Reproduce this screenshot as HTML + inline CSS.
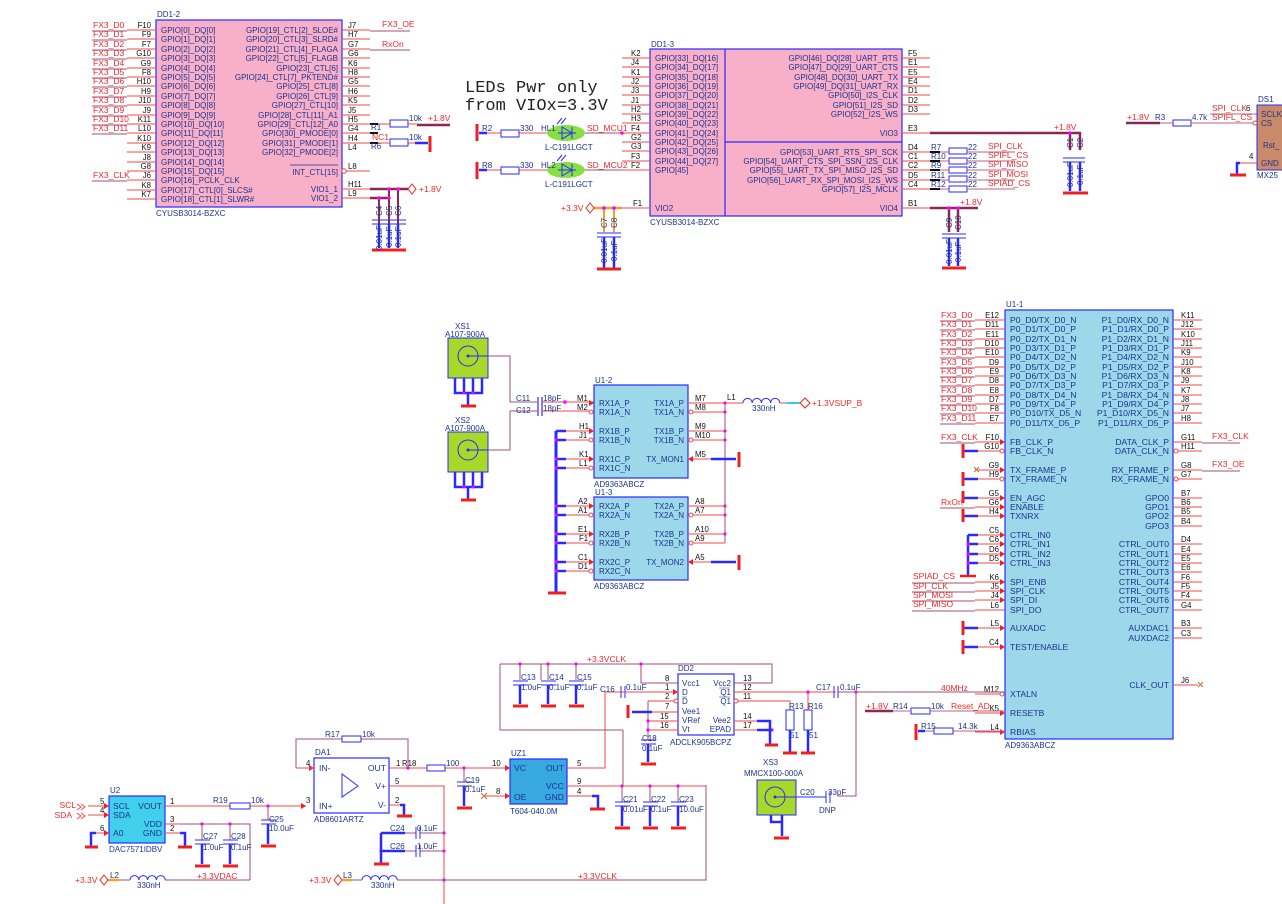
<!DOCTYPE html>
<html><head><meta charset="utf-8"><style>
html,body{margin:0;padding:0;background:#fff;}
svg{display:block;font-family:"Liberation Sans",sans-serif;}
.b{fill:#1d3390;font-size:8px}
.bs{fill:#1d3390;font-size:8.6px}
.r{fill:#f02828;font-size:8.5px}
.k{fill:#111;font-size:7.8px}
.e{text-anchor:end}
.m{text-anchor:middle}
</style></head><body>
<svg width="1282" height="904" viewBox="0 0 1282 904" xmlns="http://www.w3.org/2000/svg">
<rect width="1282" height="904" fill="#fff"/>

<!-- ================= DD1-2 ================= -->
<rect x="156" y="20" width="186" height="187" fill="#f8b0c8" stroke="#2a2aff" stroke-width="1.2"/>
<text class="b" x="157" y="17">DD1-2</text>
<text class="b" x="156" y="216">CYUSB3014-BZXC</text>
<path d="M127 30H156M127 39H156M127 49H156M127 58H156M127 68H156M127 77H156M127 86H156M127 96H156M127 105H156M127 115H156M127 124H156M127 133H156M127 143H156M127 152H156M127 162H156M127 171H156M127 180H156M127 190H156M127 199H156
M342 30H370M342 39H370M342 49H370M342 58H370M342 68H370M342 77H370M342 86H370M342 96H370M342 105H370M342 115H370M342 124H370M342 133H370M342 143H370M342 171H370M342 189H370M342 198H370" stroke="#f04848" stroke-width="1"/>
<path d="M92 31H127M92 40H127M92 50H127M92 59H127M92 69H127M92 78H127M92 87H127M92 97H127M92 106H127M92 116H127M92 125H127M92 134H127M92 181H127M370 31H410M370 50H410" stroke="#a05078" stroke-width="1"/>
<g class="r">
<text x="93" y="28">FX3_D0</text><text x="93" y="37">FX3_D1</text><text x="93" y="47">FX3_D2</text><text x="93" y="56">FX3_D3</text><text x="93" y="66">FX3_D4</text><text x="93" y="75">FX3_D5</text><text x="93" y="84">FX3_D6</text><text x="93" y="94">FX3_D7</text><text x="93" y="103">FX3_D8</text><text x="93" y="113">FX3_D9</text><text x="93" y="122">FX3_D10</text><text x="93" y="131">FX3_D11</text><text x="93" y="178">FX3_CLK</text>
<text x="382" y="27">FX3_OE</text><text x="382" y="47">RxOn</text>
</g>
<g class="k e">
<text x="151" y="28">F10</text><text x="151" y="37">F9</text><text x="151" y="47">F7</text><text x="151" y="56">G10</text><text x="151" y="66">G9</text><text x="151" y="75">F8</text><text x="151" y="84">H10</text><text x="151" y="94">H9</text><text x="151" y="103">J10</text><text x="151" y="113">J9</text><text x="151" y="122">K11</text><text x="151" y="131">L10</text><text x="151" y="141">K10</text><text x="151" y="150">K9</text><text x="151" y="160">J8</text><text x="151" y="169">G8</text><text x="151" y="178">J6</text><text x="151" y="188">K8</text><text x="151" y="197">K7</text>
</g>
<g class="k">
<text x="348" y="28">J7</text><text x="348" y="37">H7</text><text x="348" y="47">G7</text><text x="348" y="56">G6</text><text x="348" y="66">K6</text><text x="348" y="75">H8</text><text x="348" y="84">G5</text><text x="348" y="94">H6</text><text x="348" y="103">K5</text><text x="348" y="113">J5</text><text x="348" y="122">H5</text><text x="348" y="131">G4</text><text x="348" y="141">H4</text><text x="348" y="150">L4</text><text x="348" y="169">L8</text><text x="348" y="187">H11</text><text x="348" y="196">L9</text>
</g>
<g class="b">
<text x="161" y="33">GPIO[0]_DQ[0]</text><text x="161" y="42">GPIO[1]_DQ[1]</text><text x="161" y="52">GPIO[2]_DQ[2]</text><text x="161" y="61">GPIO[3]_DQ[3]</text><text x="161" y="71">GPIO[4]_DQ[4]</text><text x="161" y="80">GPIO[5]_DQ[5]</text><text x="161" y="89">GPIO[6]_DQ[6]</text><text x="161" y="99">GPIO[7]_DQ[7]</text><text x="161" y="108">GPIO[8]_DQ[8]</text><text x="161" y="118">GPIO[9]_DQ[9]</text><text x="161" y="127">GPIO[10]_DQ[10]</text><text x="161" y="136">GPIO[11]_DQ[11]</text><text x="161" y="146">GPIO[12]_DQ[12]</text><text x="161" y="155">GPIO[13]_DQ[13]</text><text x="161" y="165">GPIO[14]_DQ[14]</text><text x="161" y="174">GPIO[15]_DQ[15]</text><text x="161" y="183">GPIO[16]_PCLK_CLK</text><text x="161" y="193">GPIO[17]_CTL[0]_SLCS#</text><text x="161" y="202">GPIO[18]_CTL[1]_SLWR#</text>
</g>
<g class="b e">
<text x="338" y="33">GPIO[19]_CTL[2]_SLOE#</text><text x="338" y="42">GPIO[20]_CTL[3]_SLRD#</text><text x="338" y="52">GPIO[21]_CTL[4]_FLAGA</text><text x="338" y="61">GPIO[22]_CTL[5]_FLAGB</text><text x="338" y="71">GPIO[23]_CTL[6]</text><text x="338" y="80">GPIO[24]_CTL[7]_PKTEND#</text><text x="338" y="89">GPIO[25]_CTL[8]</text><text x="338" y="99">GPIO[26]_CTL[9]</text><text x="338" y="108">GPIO[27]_CTL[10]</text><text x="338" y="118">GPIO[28]_CTL[11]_A1</text><text x="338" y="127">GPIO[29]_CTL[12]_A0</text><text x="338" y="136">GPIO[30]_PMODE[0]</text><text x="338" y="146">GPIO[31]_PMODE[1]</text><text x="338" y="155">GPIO[32]_PMODE[2]</text><text x="338" y="175">INT_CTL[15]</text><text x="338" y="192">VIO1_1</text><text x="338" y="201">VIO1_2</text>
</g>
<line x1="290" y1="165" x2="338" y2="165" stroke="#1d3390" stroke-width="0.7"/>
<circle cx="344" cy="171" r="2.2" fill="#fff" stroke="#f04848"/>
<!-- R1 / R6 -->
<path d="M370 133H378M370 143H378M370 124H378" stroke="#111" stroke-width="2"/>
<text class="b" x="371" y="130">R1</text><text class="r" x="372" y="140">NC1</text><text class="b" x="371" y="149">R6</text>
<rect x="390" y="120" width="18" height="7" fill="#fff" stroke="#2a2aff"/>
<rect x="390" y="139" width="18" height="7" fill="#fff" stroke="#2a2aff"/>
<path d="M378 124H390M408 124H417M378 143H390M408 143H415" stroke="#f04848"/>
<path d="M417 125H450" stroke="#8a2850" stroke-width="2.5"/>
<path d="M415 143H428" stroke="#2a2aff" stroke-width="2.5"/>
<path d="M430 136V152" stroke="#f02020" stroke-width="3"/>
<text class="b" x="409" y="121">10k</text><text class="b" x="409" y="140">10k</text>
<text class="r" x="428" y="121">+1.8V</text>
<!-- VIO1 caps -->
<path d="M370 189H408M370 198H390" stroke="#8a2850" stroke-width="2.5"/>
<path d="M412 184L416 189L412 194L408 189Z" fill="#fff" stroke="#f02020"/>
<text class="r" x="419" y="192">+1.8V</text>
<path d="M379 198V242M389 189V242M398 189V242" stroke="#8a2850" stroke-width="2"/>
<path d="M372 220H406M372 224H406" stroke="#2a2aff" stroke-width="1"/>
<path d="M379 224V248M389 224V248M398 224V248" stroke="#2a2aff" stroke-width="2.5"/>
<path d="M372 250H406" stroke="#f02020" stroke-width="3"/>
<circle cx="379" cy="198" r="1.8" fill="#f0f"/><circle cx="389" cy="198" r="1.8" fill="#f0f"/><circle cx="389" cy="189" r="1.8" fill="#f0f"/><circle cx="398" cy="189" r="1.8" fill="#f0f"/>
<g class="b" font-size="7"><text transform="translate(382,216) rotate(-90)">C4</text><text transform="translate(392,216) rotate(-90)">C5</text><text transform="translate(401,216) rotate(-90)">C6</text>
<text transform="translate(382,250) rotate(-90)">0.01uF</text><text transform="translate(392,247) rotate(-90)">0.1uF</text><text transform="translate(401,247) rotate(-90)">0.1uF</text></g>

<!-- ================= LED text ================= -->
<text x="465" y="92" font-family="Liberation Mono,monospace" font-size="17" fill="#222">LEDs Pwr only</text>
<text x="465" y="110" font-family="Liberation Mono,monospace" font-size="17" fill="#222">from VIOx=3.3V</text>

<!-- LEDs -->
<g>
<path d="M477 124V141M477 162V179" stroke="#f02020" stroke-width="3"/>
<path d="M479 133H487M479 170H487" stroke="#2a2aff" stroke-width="2.5"/>
<path d="M487 133H501M519 133H547M487 170H501M519 170H547" stroke="#f04848"/>
<path d="M585 133H650M585 170H650" stroke="#a05078" stroke-width="1"/>
<rect x="501" y="130" width="18" height="7" fill="#fff" stroke="#2a2aff"/>
<rect x="501" y="167" width="18" height="7" fill="#fff" stroke="#2a2aff"/>
<ellipse cx="566" cy="133" rx="19" ry="8" fill="#88e040"/>
<ellipse cx="566" cy="170" rx="19" ry="8" fill="#88e040"/>
<path d="M558 133H576M572 127V139M572 133L562 127V139Z M558 170H576M572 164V176M572 170L562 164V176Z" fill="none" stroke="#2a2aff"/>
<path d="M557 124L562 118M561 124L566 118M557 161L562 155M561 161L566 155" stroke="#2a2aff"/>
<circle cx="622" cy="133" r="1.8" fill="#f0f"/>
<text class="b" x="482" y="131">R2</text><text class="b" x="482" y="168">R8</text>
<text class="b" x="520" y="131">330</text><text class="b" x="520" y="168">330</text>
<text class="b" x="541" y="131">HL1</text><text class="b" x="541" y="168">HL2</text>
<text class="b" x="545" y="150">L-C191LGCT</text><text class="b" x="545" y="187">L-C191LGCT</text>
<text class="r" x="587" y="131">SD_MCU1</text><text class="r" x="587" y="168">SD_MCU2</text>
</g>

<!-- ================= DD1-3 ================= -->
<rect x="650" y="49" width="252" height="167" fill="#f8b0c8" stroke="#2a2aff" stroke-width="1.2"/>
<path d="M725 49V216M725 142H902" stroke="#2a2aff" stroke-width="1.2"/>
<text class="b" x="651" y="47">DD1-3</text>
<text class="b" x="650" y="225">CYUSB3014-BZXC</text>
<path d="M622 58H650M622 67H650M622 77H650M622 86H650M622 95H650M622 105H650M622 114H650M622 123H650M622 133H650M622 142H650M622 151H650M622 161H650M622 170H650M622 208H650
M902 58H930M902 67H930M902 77H930M902 86H930M902 95H930M902 105H930M902 114H930M902 133H930M902 152H930M902 161H930M902 170H930M902 180H930M902 189H930M902 208H930" stroke="#f04848"/>
<g class="k">
<text x="631" y="56">K2</text><text x="631" y="65">J4</text><text x="631" y="75">K1</text><text x="631" y="84">J2</text><text x="631" y="93">J3</text><text x="631" y="103">J1</text><text x="631" y="112">H2</text><text x="631" y="121">H3</text><text x="631" y="131">F4</text><text x="631" y="140">G2</text><text x="631" y="149">G3</text><text x="631" y="159">F3</text><text x="631" y="168">F2</text><text x="633" y="206">F1</text>
<text x="908" y="56">F5</text><text x="908" y="65">E1</text><text x="908" y="75">E5</text><text x="908" y="84">E4</text><text x="908" y="93">D1</text><text x="908" y="103">D2</text><text x="908" y="112">D3</text><text x="908" y="131">E3</text><text x="908" y="150">D4</text><text x="908" y="159">C1</text><text x="908" y="168">C2</text><text x="908" y="178">D5</text><text x="908" y="187">C4</text><text x="908" y="206">B1</text>
</g>
<g class="b">
<text x="655" y="61">GPIO[33]_DQ[16]</text><text x="655" y="70">GPIO[34]_DQ[17]</text><text x="655" y="80">GPIO[35]_DQ[18]</text><text x="655" y="89">GPIO[36]_DQ[19]</text><text x="655" y="98">GPIO[37]_DQ[20]</text><text x="655" y="108">GPIO[38]_DQ[21]</text><text x="655" y="117">GPIO[39]_DQ[22]</text><text x="655" y="126">GPIO[40]_DQ[23]</text><text x="655" y="136">GPIO[41]_DQ[24]</text><text x="655" y="145">GPIO[42]_DQ[25]</text><text x="655" y="154">GPIO[43]_DQ[26]</text><text x="655" y="164">GPIO[44]_DQ[27]</text><text x="655" y="173">GPIO[45]</text><text x="655" y="211">VIO2</text>
</g>
<g class="b e">
<text x="898" y="61">GPIO[46]_DQ[28]_UART_RTS</text><text x="898" y="70">GPIO[47]_DQ[29]_UART_CTS</text><text x="898" y="80">GPIO[48]_DQ[30]_UART_TX</text><text x="898" y="89">GPIO[49]_DQ[31]_UART_RX</text><text x="898" y="98">GPIO[50]_I2S_CLK</text><text x="898" y="108">GPIO[51]_I2S_SD</text><text x="898" y="117">GPIO[52]_I2S_WS</text><text x="898" y="136">VIO3</text>
<text x="898" y="155">GPIO[53]_UART_RTS_SPI_SCK</text><text x="898" y="164">GPIO[54]_UART_CTS_SPI_SSN_I2S_CLK</text><text x="898" y="173">GPIO[55]_UART_TX_SPI_MISO_I2S_SD</text><text x="898" y="183">GPIO[56]_UART_RX_SPI_MOSI_I2S_WS</text><text x="898" y="192">GPIO[57]_I2S_MCLK</text><text x="898" y="211">VIO4</text>
</g>
<!-- VIO2 caps -->
<path d="M594 208H622" stroke="#f0a030" stroke-width="2.5"/>
<path d="M590 203L594 208L590 213L586 208Z" fill="#fff" stroke="#f02020"/>
<text class="r" x="561" y="211">+3.3V</text>
<path d="M604 208V232M614 208V232" stroke="#f0a030" stroke-width="2"/>
<path d="M597 233H621M597 237H621" stroke="#2a2aff"/>
<path d="M604 237V268M614 237V268" stroke="#2a2aff" stroke-width="2.5"/>
<path d="M597 269H621" stroke="#f02020" stroke-width="3"/>
<circle cx="604" cy="208" r="1.8" fill="#f0f"/><circle cx="614" cy="208" r="1.8" fill="#f0f"/>
<g class="b" font-size="7"><text transform="translate(607,228) rotate(-90)">C7</text><text transform="translate(617,228) rotate(-90)">C8</text><text transform="translate(607,263) rotate(-90)">0.01uF</text><text transform="translate(617,261) rotate(-90)">0.1uF</text></g>

<!-- right of DD1-3 -->
<path d="M930 133H1080V150M1070 133V150" fill="none" stroke="#8a2850" stroke-width="2.5"/>
<circle cx="1070" cy="133" r="1.8" fill="#f0f"/>
<text class="r" x="1054" y="130">+1.8V</text>
<path d="M1063 158H1085M1063 162H1085" stroke="#2a2aff"/>
<path d="M1070 162V191M1080 162V191" stroke="#2a2aff" stroke-width="2.5"/>
<path d="M1063 193H1088" stroke="#f02020" stroke-width="3"/>
<g class="b" font-size="7"><text transform="translate(1073,148) rotate(-90)">C1</text><text transform="translate(1083,148) rotate(-90)">C2</text><text transform="translate(1073,187) rotate(-90)">0.01uF</text><text transform="translate(1083,185) rotate(-90)">0.1uF</text></g>
<path d="M930 152H940M930 161H940M930 170H940M930 180H940M930 189H940" stroke="#111" stroke-width="2"/>
<rect x="949" y="148" width="18" height="6" fill="#fff" stroke="#2a2aff"/><rect x="949" y="158" width="18" height="6" fill="#fff" stroke="#2a2aff"/><rect x="949" y="167" width="18" height="6" fill="#fff" stroke="#2a2aff"/><rect x="949" y="176" width="18" height="6" fill="#fff" stroke="#2a2aff"/><rect x="949" y="186" width="18" height="6" fill="#fff" stroke="#2a2aff"/>
<path d="M940 152H949M967 152H1015M940 161H949M967 161H1015M940 170H949M967 170H1015M940 180H949M967 180H1015M940 189H949M967 189H1015" stroke="#c06080"/>
<g class="b"><text x="931" y="150">R7</text><text x="931" y="159">R10</text><text x="931" y="168">R9</text><text x="931" y="178">R11</text><text x="931" y="187">R12</text>
<text x="968" y="150">22</text><text x="968" y="159">22</text><text x="968" y="168">22</text><text x="968" y="178">22</text><text x="968" y="187">22</text></g>
<g class="r"><text x="988" y="149">SPI_CLK</text><text x="988" y="158">SPIFL_CS</text><text x="988" y="167">SPI_MISO</text><text x="988" y="177">SPI_MOSI</text><text x="988" y="186">SPIAD_CS</text></g>
<path d="M930 208H978M949 208V232M958 208V232" stroke="#8a2850" stroke-width="2.5"/>
<circle cx="949" cy="208" r="1.8" fill="#f0f"/><circle cx="958" cy="208" r="1.8" fill="#f0f"/>
<text class="r" x="960" y="205">+1.8V</text>
<path d="M942 234H966M942 238H966" stroke="#2a2aff"/>
<path d="M949 238V266M958 238V266" stroke="#2a2aff" stroke-width="2.5"/>
<path d="M942 268H966" stroke="#f02020" stroke-width="3"/>
<g class="b" font-size="7"><text transform="translate(952,228) rotate(-90)">C9</text><text transform="translate(961,230) rotate(-90)">C10</text><text transform="translate(952,264) rotate(-90)">0.01uF</text><text transform="translate(961,262) rotate(-90)">0.1uF</text></g>

<!-- DS1 -->
<path d="M1126 123H1160" stroke="#8a2850" stroke-width="2.5"/>
<text class="r" x="1127" y="120">+1.8V</text><text class="b" x="1155" y="120">R3</text>
<rect x="1173" y="120" width="18" height="6" fill="#fff" stroke="#2a2aff"/>
<path d="M1160 123H1173M1191 123H1253M1210 114H1257" stroke="#c06080"/>
<text class="b" x="1192" y="120">4.7k</text>
<text class="r" x="1212" y="111">SPI_CLK</text><text class="r" x="1212" y="120">SPIFL_CS</text>
<text class="k" x="1246" y="111">6</text><text class="k" x="1249" y="159">4</text>
<rect x="1257" y="105" width="30" height="65" fill="#c88a68" stroke="#2a2aff"/>
<circle cx="1255" cy="123" r="2" fill="#fff" stroke="#f04848"/>
<text class="b" x="1258" y="102">DS1</text>
<g class="b"><text x="1261" y="117">SCLK</text><text x="1261" y="126">CS</text><text x="1263" y="148">Rst_</text><text x="1261" y="166">GND</text><text x="1257" y="178">MX25</text></g>
<path d="M1238 163H1257" stroke="#f04848"/>
<path d="M1240 163H1237V174" stroke="#2a2aff" stroke-width="2.5" fill="none"/>
<path d="M1230 175H1246" stroke="#f02020" stroke-width="3"/>

<!-- ================= XS1 / XS2 ================= -->
<g>
<rect x="448" y="338" width="40" height="40" fill="#a8d828" stroke="#2a2aff"/>
<circle cx="468" cy="356" r="10" fill="none" stroke="#2a2aff"/><circle cx="468" cy="356" r="1.5" fill="#2a2aff"/>
<path d="M468 356H488" stroke="#2a2aff"/>
<path d="M455 378V393H482V378M464 378V393M473 378V393M468 393V405" stroke="#2a2aff" stroke-width="2.5" fill="none"/>
<path d="M461 406H476" stroke="#f02020" stroke-width="3"/>
<circle cx="464" cy="393" r="1.5" fill="#f0f"/><circle cx="473" cy="393" r="1.5" fill="#f0f"/>
<text class="b" x="455" y="329">XS1</text><text class="b" x="445" y="337">A107-900A</text>
<rect x="448" y="432" width="40" height="40" fill="#a8d828" stroke="#2a2aff"/>
<circle cx="468" cy="450" r="10" fill="none" stroke="#2a2aff"/><circle cx="468" cy="450" r="1.5" fill="#2a2aff"/>
<path d="M468 450H488" stroke="#2a2aff"/>
<path d="M455 472V487H482V472M464 472V487M473 472V487M468 487V499" stroke="#2a2aff" stroke-width="2.5" fill="none"/>
<path d="M461 500H476" stroke="#f02020" stroke-width="3"/>
<circle cx="464" cy="487" r="1.5" fill="#f0f"/><circle cx="473" cy="487" r="1.5" fill="#f0f"/>
<text class="b" x="455" y="423">XS2</text><text class="b" x="445" y="431">A107-900A</text>
<path d="M488 356H510V402H537M488 450H510V411H537" stroke="#a05078" fill="none"/>
<path d="M538 397V416M542 397V416" stroke="#2a2aff" stroke-width="1.2"/>
<path d="M542 402H594M542 411H594" stroke="#f04848"/>
<circle cx="565" cy="402" r="1.8" fill="#f0f"/>
<text class="b" x="516" y="401">C11</text><text class="b" x="516" y="413">C12</text>
<text class="b" x="543" y="401">18pF</text><text class="b" x="543" y="411">18pF</text>
</g>

<!-- ================= U1-2 / U1-3 ================= -->
<rect x="594" y="385" width="94" height="93" fill="#9cd8ea" stroke="#2a2aff" stroke-width="1.2"/>
<rect x="594" y="497" width="94" height="83" fill="#9cd8ea" stroke="#2a2aff" stroke-width="1.2"/>
<text class="b" x="595" y="383">U1-2</text><text class="b" x="594" y="487">AD9363ABCZ</text>
<text class="b" x="595" y="495">U1-3</text><text class="b" x="594" y="589">AD9363ABCZ</text>
<path d="M558 431H594M558 440H594M558 459H594M558 468H594M558 506H594M558 515H594M558 534H594M558 543H594M558 562H594M558 571H594
M688 403H725M688 412H725M688 431H725M688 440H725M688 459H712M688 506H725M688 515H725M688 534H725M688 543H725M688 562H712" stroke="#f04848"/>
<path d="M556 431V592" stroke="#2a2aff" stroke-width="3"/>
<path d="M556 431H566M556 440H566M556 459H566M556 468H566M556 506H566M556 515H566M556 534H566M556 543H566M556 562H566M556 571H566" stroke="#2a2aff" stroke-width="2.5"/>
<path d="M548 593H566" stroke="#f02020" stroke-width="3"/>
<g fill="#f0f"><circle cx="556" cy="440" r="1.6"/><circle cx="556" cy="459" r="1.6"/><circle cx="556" cy="468" r="1.6"/><circle cx="556" cy="506" r="1.6"/><circle cx="556" cy="515" r="1.6"/><circle cx="556" cy="534" r="1.6"/><circle cx="556" cy="543" r="1.6"/><circle cx="556" cy="562" r="1.6"/><circle cx="556" cy="571" r="1.6"/>
<circle cx="725" cy="403" r="1.6"/><circle cx="725" cy="412" r="1.6"/><circle cx="725" cy="431" r="1.6"/><circle cx="725" cy="440" r="1.6"/><circle cx="725" cy="506" r="1.6"/><circle cx="725" cy="515" r="1.6"/><circle cx="725" cy="534" r="1.6"/></g>
<path d="M725 403V543" stroke="#a05078"/>
<path d="M711 459H736M711 562H736" stroke="#2a2aff" stroke-width="2.5"/>
<path d="M739 452V467M739 555V570" stroke="#f02020" stroke-width="3"/>
<g fill="#f02020"><path d="M594 403l-5-3v6z"/><path d="M594 431l-5-3v6z"/><path d="M594 459l-5-3v6z"/><path d="M594 506l-5-3v6z"/><path d="M594 534l-5-3v6z"/><path d="M594 562l-5-3v6z"/><path d="M688 459l5-3v6z"/><path d="M688 562l5-3v6z"/></g>
<g fill="#fff" stroke="#f04848"><circle cx="591" cy="412" r="2"/><circle cx="591" cy="440" r="2"/><circle cx="591" cy="468" r="2"/><circle cx="591" cy="515" r="2"/><circle cx="591" cy="543" r="2"/><circle cx="591" cy="571" r="2"/><circle cx="691" cy="412" r="2"/><circle cx="691" cy="440" r="2"/><circle cx="691" cy="515" r="2"/><circle cx="691" cy="543" r="2"/></g>
<g class="k"><text x="577" y="401">M1</text><text x="577" y="410">M2</text><text x="579" y="429">H1</text><text x="579" y="438">J1</text><text x="579" y="457">K1</text><text x="579" y="466">L1</text><text x="578" y="504">A2</text><text x="578" y="513">A1</text><text x="578" y="532">E1</text><text x="579" y="541">F1</text><text x="578" y="560">C1</text><text x="578" y="569">D1</text>
<text x="695" y="401">M7</text><text x="695" y="410">M8</text><text x="695" y="429">M9</text><text x="695" y="438">M10</text><text x="695" y="457">M5</text><text x="695" y="504">A8</text><text x="695" y="513">A7</text><text x="695" y="532">A10</text><text x="695" y="541">A9</text><text x="695" y="560">A5</text></g>
<g class="b"><text x="599" y="406">RX1A_P</text><text x="599" y="415">RX1A_N</text><text x="599" y="434">RX1B_P</text><text x="599" y="443">RX1B_N</text><text x="599" y="462">RX1C_P</text><text x="599" y="471">RX1C_N</text>
<text x="599" y="509">RX2A_P</text><text x="599" y="518">RX2A_N</text><text x="599" y="537">RX2B_P</text><text x="599" y="546">RX2B_N</text><text x="599" y="565">RX2C_P</text><text x="599" y="574">RX2C_N</text></g>
<g class="b e"><text x="684" y="406">TX1A_P</text><text x="684" y="415">TX1A_N</text><text x="684" y="434">TX1B_P</text><text x="684" y="443">TX1B_N</text><text x="684" y="462">TX_MON1</text>
<text x="684" y="509">TX2A_P</text><text x="684" y="518">TX2A_N</text><text x="684" y="537">TX2B_P</text><text x="684" y="546">TX2B_N</text><text x="684" y="565">TX_MON2</text></g>
<path d="M725 403H743M780 403H787" stroke="#f04848"/>
<path d="M743 403a4.6 4.6 0 0 1 9.2 0a4.6 4.6 0 0 1 9.2 0a4.6 4.6 0 0 1 9.2 0a4.6 4.6 0 0 1 9.2 0" fill="none" stroke="#2a2aff"/>
<path d="M787 403H800" stroke="#30d0e0" stroke-width="2"/>
<path d="M805 398L810 403L805 408L800 403Z" fill="#fff" stroke="#f02020"/>
<text class="k" x="727" y="400">L1</text><text class="b" x="752" y="411">330nH</text>
<text class="r" x="812" y="406">+1.3VSUP_B</text>

<!-- ================= U1-1 ================= -->
<rect x="1005" y="310" width="168" height="429" fill="#9cd8ea" stroke="#2a2aff" stroke-width="1.2"/>
<text class="b" x="1006" y="307">U1-1</text><text class="b" x="1005" y="748">AD9363ABCZ</text>
<path d="M975 320H1005M975 329H1005M975 339H1005M975 348H1005M975 357H1005M975 367H1005M975 376H1005M975 385H1005M975 395H1005M975 404H1005M975 413H1005M975 423H1005
M975 442H1005M975 451H1005M975 470H1005M975 479H1005M975 498H1005M975 507H1005M975 516H1005M975 535H1005M975 544H1005M975 554H1005M975 563H1005M975 582H1005M975 591H1005M975 600H1005M975 610H1005M975 628H1005M975 647H1005M975 694H1005M975 713H1005M975 732H1005
M1173 320H1202M1173 329H1202M1173 339H1202M1173 348H1202M1173 357H1202M1173 367H1202M1173 376H1202M1173 385H1202M1173 395H1202M1173 404H1202M1173 413H1202M1173 423H1202
M1173 442H1202M1173 451H1202M1173 470H1202M1173 479H1202M1173 498H1202M1173 507H1202M1173 516H1202M1173 526H1202M1173 544H1202M1173 554H1202M1173 563H1202M1173 572H1202M1173 582H1202M1173 591H1202M1173 600H1202M1173 610H1202M1173 628H1202M1173 638H1202M1173 685H1198" stroke="#f04848"/>
<path d="M940 321H975M940 330H975M940 340H975M940 349H975M940 358H975M940 368H975M940 377H975M940 386H975M940 396H975M940 405H975M940 414H975M940 424H975M940 443H975M940 508H975M912 583H975M912 592H975M912 601H975M912 611H975M1202 443H1240M1202 471H1240" stroke="#a05078"/>
<g class="r"><text x="941" y="318">FX3_D0</text><text x="941" y="327">FX3_D1</text><text x="941" y="337">FX3_D2</text><text x="941" y="346">FX3_D3</text><text x="941" y="355">FX3_D4</text><text x="941" y="365">FX3_D5</text><text x="941" y="374">FX3_D6</text><text x="941" y="383">FX3_D7</text><text x="941" y="393">FX3_D8</text><text x="941" y="402">FX3_D9</text><text x="941" y="411">FX3_D10</text><text x="941" y="421">FX3_D11</text><text x="941" y="440">FX3_CLK</text><text x="941" y="505">RxOn</text>
<text x="913" y="579">SPIAD_CS</text><text x="913" y="589">SPI_CLK</text><text x="913" y="598">SPI_MOSI</text><text x="913" y="607">SPI_MISO</text>
<text x="1212" y="439">FX3_CLK</text><text x="1212" y="467">FX3_OE</text>
<text x="941" y="691">40MHz</text><text x="951" y="709">Reset_AD</text></g>
<g class="k e"><text x="999" y="318">E12</text><text x="999" y="327">D11</text><text x="999" y="337">E11</text><text x="999" y="346">D10</text><text x="999" y="355">E10</text><text x="999" y="365">D9</text><text x="999" y="374">E9</text><text x="999" y="383">D8</text><text x="999" y="393">E8</text><text x="999" y="402">D7</text><text x="999" y="411">F8</text><text x="999" y="421">E7</text>
<text x="999" y="440">F10</text><text x="999" y="449">G10</text><text x="999" y="468">G9</text><text x="999" y="477">H9</text><text x="999" y="496">G5</text><text x="999" y="505">G6</text><text x="999" y="514">H4</text><text x="999" y="533">C5</text><text x="999" y="542">C6</text><text x="999" y="552">D6</text><text x="999" y="561">D5</text><text x="999" y="580">K6</text><text x="999" y="589">J5</text><text x="999" y="598">J4</text><text x="999" y="608">L6</text><text x="999" y="626">L5</text><text x="999" y="645">C4</text><text x="999" y="692">M12</text><text x="999" y="711">K5</text><text x="999" y="730">L4</text></g>
<g class="k"><text x="1181" y="318">K11</text><text x="1181" y="327">J12</text><text x="1181" y="337">K10</text><text x="1181" y="346">J11</text><text x="1181" y="355">K9</text><text x="1181" y="365">J10</text><text x="1181" y="374">K8</text><text x="1181" y="383">J9</text><text x="1181" y="393">K7</text><text x="1181" y="402">J8</text><text x="1181" y="411">J7</text><text x="1181" y="421">H8</text>
<text x="1181" y="440">G11</text><text x="1181" y="449">H11</text><text x="1181" y="468">G8</text><text x="1181" y="477">G7</text><text x="1181" y="496">B7</text><text x="1181" y="505">B6</text><text x="1181" y="514">B5</text><text x="1181" y="524">B4</text><text x="1181" y="542">D4</text><text x="1181" y="552">E4</text><text x="1181" y="561">E5</text><text x="1181" y="570">E6</text><text x="1181" y="580">F6</text><text x="1181" y="589">F5</text><text x="1181" y="598">F4</text><text x="1181" y="608">G4</text><text x="1181" y="626">B3</text><text x="1181" y="636">C3</text><text x="1181" y="683">J6</text></g>
<g class="bs"><text x="1010" y="323">P0_D0/TX_D0_N</text><text x="1010" y="332">P0_D1/TX_D0_P</text><text x="1010" y="342">P0_D2/TX_D1_N</text><text x="1010" y="351">P0_D3/TX_D1_P</text><text x="1010" y="360">P0_D4/TX_D2_N</text><text x="1010" y="370">P0_D5/TX_D2_P</text><text x="1010" y="379">P0_D6/TX_D3_N</text><text x="1010" y="388">P0_D7/TX_D3_P</text><text x="1010" y="398">P0_D8/TX_D4_N</text><text x="1010" y="407">P0_D9/TX_D4_P</text><text x="1010" y="416">P0_D10/TX_D5_N</text><text x="1010" y="426">P0_D11/TX_D5_P</text>
<text x="1010" y="445">FB_CLK_P</text><text x="1010" y="454">FB_CLK_N</text><text x="1010" y="473">TX_FRAME_P</text><text x="1010" y="482">TX_FRAME_N</text><text x="1010" y="501">EN_AGC</text><text x="1010" y="510">ENABLE</text><text x="1010" y="519">TXNRX</text><text x="1010" y="538">CTRL_IN0</text><text x="1010" y="547">CTRL_IN1</text><text x="1010" y="557">CTRL_IN2</text><text x="1010" y="566">CTRL_IN3</text><text x="1010" y="585">SPI_ENB</text><text x="1010" y="594">SPI_CLK</text><text x="1010" y="603">SPI_DI</text><text x="1010" y="613">SPI_DO</text><text x="1010" y="631">AUXADC</text><text x="1010" y="650">TEST/ENABLE</text><text x="1010" y="697">XTALN</text><text x="1010" y="716">RESETB</text><text x="1010" y="735">RBIAS</text></g>
<g class="bs e"><text x="1169" y="323">P1_D0/RX_D0_N</text><text x="1169" y="332">P1_D1/RX_D0_P</text><text x="1169" y="342">P1_D2/RX_D1_N</text><text x="1169" y="351">P1_D3/RX_D1_P</text><text x="1169" y="360">P1_D4/RX_D2_N</text><text x="1169" y="370">P1_D5/RX_D2_P</text><text x="1169" y="379">P1_D6/RX_D3_N</text><text x="1169" y="388">P1_D7/RX_D3_P</text><text x="1169" y="398">P1_D8/RX_D4_N</text><text x="1169" y="407">P1_D9/RX_D4_P</text><text x="1169" y="416">P1_D10/RX_D5_N</text><text x="1169" y="426">P1_D11/RX_D5_P</text>
<text x="1169" y="445">DATA_CLK_P</text><text x="1169" y="454">DATA_CLK_N</text><text x="1169" y="473">RX_FRAME_P</text><text x="1169" y="482">RX_FRAME_N</text><text x="1169" y="501">GPO0</text><text x="1169" y="510">GPO1</text><text x="1169" y="519">GPO2</text><text x="1169" y="529">GPO3</text><text x="1169" y="547">CTRL_OUT0</text><text x="1169" y="557">CTRL_OUT1</text><text x="1169" y="566">CTRL_OUT2</text><text x="1169" y="575">CTRL_OUT3</text><text x="1169" y="585">CTRL_OUT4</text><text x="1169" y="594">CTRL_OUT5</text><text x="1169" y="603">CTRL_OUT6</text><text x="1169" y="613">CTRL_OUT7</text><text x="1169" y="631">AUXDAC1</text><text x="1169" y="641">AUXDAC2</text><text x="1169" y="688">CLK_OUT</text></g>
<g fill="#f02020"><path d="M1005 442l-5-3v6z"/><path d="M1005 470l-5-3v6z"/><path d="M1005 498l-5-3v6z"/><path d="M1005 507l-5-3v6z"/><path d="M1005 516l-5-3v6z"/><path d="M1005 535l-5-3v6z"/><path d="M1005 544l-5-3v6z"/><path d="M1005 554l-5-3v6z"/><path d="M1005 563l-5-3v6z"/><path d="M1005 582l-5-3v6z"/><path d="M1005 591l-5-3v6z"/><path d="M1005 600l-5-3v6z"/><path d="M1005 628l-5-3v6z"/><path d="M1005 647l-5-3v6z"/><path d="M1005 713l-5-3v6z"/><path d="M1005 732l-5-3v6z"/></g>
<g fill="#fff" stroke="#f04848"><circle cx="1002" cy="451" r="2"/><circle cx="1002" cy="479" r="2"/><circle cx="1002" cy="694" r="2"/><circle cx="1176" cy="451" r="2"/><circle cx="1176" cy="479" r="2"/></g>
<path d="M964 451H978M964 479H978M964 498H978M964 516H978M964 628H978M964 647H978M968 535H978M968 544H978M968 554H978M968 563H978M968 535V575" stroke="#2a2aff" stroke-width="2.5"/>
<path d="M963 444V458M963 472V486M963 491V503M963 509V522M963 621V635M963 640V654" stroke="#f02020" stroke-width="3"/>
<path d="M960 576H976" stroke="#f02020" stroke-width="2.5"/>
<g fill="#f0f"><circle cx="968" cy="544" r="1.6"/><circle cx="968" cy="554" r="1.6"/><circle cx="968" cy="563" r="1.6"/></g>
<path d="M974 467l5 5M979 467l-5 5M1198 682l5 5M1203 682l-5 5" stroke="#c07030"/>

<!-- ================= Bottom: U2 ================= -->
<rect x="109" y="796" width="56" height="47" fill="#40d0ec" stroke="#2a2aff" stroke-width="1.2"/>
<text class="b" x="110" y="793">U2</text><text class="b" x="109" y="852">DAC7571IDBV</text>
<g class="bs"><text x="113" y="809">SCL</text><text x="113" y="818">SDA</text><text x="113" y="836">A0</text></g>
<g class="bs e"><text x="162" y="809">VOUT</text><text x="162" y="827">VDD</text><text x="162" y="836">GND</text></g>
<path d="M88 806H109M88 815H109M96 833H109M165 806H230M250 806H306M165 824H250M165 833H180" stroke="#f04848"/>
<path d="M180 824H250V880" stroke="#a05078" fill="none"/>
<g fill="#f02020"><path d="M109 806l-5-3v6z"/><path d="M109 815l-5-3v6z"/><path d="M109 833l-5-3v6z"/><path d="M306 806l-5-3v6z"/><path d="M314 768l-5-3v6z"/></g>
<g class="k"><text x="100" y="804">5</text><text x="100" y="813">4</text><text x="100" y="831">6</text><text x="170" y="804">1</text><text x="170" y="822">3</text><text x="170" y="831">2</text></g>
<path d="M77 804l4 3-4 3M81 804l4 3-4 3M77 813l4 3-4 3M81 813l4 3-4 3" stroke="#f04848" fill="none"/>
<text class="r e" x="76" y="808">SCL</text><text class="r e" x="72" y="818">SDA</text>
<path d="M96 833H91V846M180 833H185V846" stroke="#2a2aff" stroke-width="2.5" fill="none"/>
<path d="M85 847H98M178 847H192" stroke="#f02020" stroke-width="3"/>
<g fill="#f0f"><circle cx="202" cy="824" r="1.6"/><circle cx="230" cy="824" r="1.6"/><circle cx="268" cy="806" r="1.6"/></g>
<path d="M202 824V840M230 824V840M268 806V820" stroke="#a05078"/>
<path d="M195 840H210M195 844H210M223 840H238M223 844H238M261 820H276M261 824H276" stroke="#2a2aff"/>
<path d="M202 844V864M230 844V864M268 824V844" stroke="#2a2aff" stroke-width="2.5"/>
<path d="M195 866H210M223 866H238M261 846H276" stroke="#f02020" stroke-width="3"/>
<g class="b"><text x="203" y="839">C27</text><text x="203" y="850">1.0uF</text><text x="231" y="839">C28</text><text x="231" y="850">0.1uF</text><text x="269" y="822">C25</text><text x="269" y="831">10.0uF</text>
<text x="213" y="803">R19</text><text x="251" y="803">10k</text></g>
<rect x="230" y="803" width="20" height="6" fill="#fff" stroke="#2a2aff"/>
<!-- L2 -->
<path d="M104 875L108 880L104 885L100 880Z" fill="#fff" stroke="#f02020"/>
<text class="r" x="75" y="883">+3.3V</text>
<path d="M108 880H119" stroke="#f0a030" stroke-width="2.5"/>
<path d="M119 880H130M165 880H250" stroke="#a05078"/>
<path d="M130 880a4.4 4.4 0 0 1 8.8 0a4.4 4.4 0 0 1 8.8 0a4.4 4.4 0 0 1 8.8 0a4.4 4.4 0 0 1 8.8 0" fill="none" stroke="#2a2aff"/>
<text class="b" x="110" y="878">L2</text><text class="b" x="137" y="888">330nH</text><text class="r" x="197" y="879">+3.3VDAC</text>

<!-- DA1 -->
<rect x="314" y="758" width="75" height="55" fill="#fff" stroke="#2a2aff" stroke-width="1.2"/>
<path d="M342 774V797L358 786Z" fill="none" stroke="#2a2aff"/>
<text class="b" x="315" y="755">DA1</text><text class="b" x="314" y="822">AD8601ARTZ</text>
<g class="bs"><text x="319" y="771">IN-</text><text x="319" y="809">IN+</text></g>
<g class="bs e"><text x="386" y="771">OUT</text><text x="386" y="789">V+</text><text x="386" y="808">V-</text></g>
<g class="k"><text x="306" y="766">4</text><text x="306" y="803">3</text><text x="396" y="766">1</text><text x="395" y="784">5</text><text x="395" y="803">2</text><text x="402" y="766">R18</text></g>
<path d="M296 768H314M389 768H427M445 768H510M389 786H444V904M389 805H400" fill="none" stroke="#f04848"/>
<path d="M296 768V739H342M361 739H408V768" stroke="#a05078" fill="none"/>
<path d="M400 805H404V815" stroke="#2a2aff" stroke-width="2.5" fill="none"/>
<path d="M397 816H412" stroke="#f02020" stroke-width="3"/>
<rect x="342" y="736" width="19" height="6" fill="#fff" stroke="#2a2aff"/>
<rect x="427" y="765" width="18" height="6" fill="#fff" stroke="#2a2aff"/>
<text class="b" x="325" y="737">R17</text><text class="b" x="362" y="737">10k</text><text class="b" x="446" y="766">100</text>
<g fill="#f0f"><circle cx="408" cy="768" r="1.6"/><circle cx="464" cy="768" r="1.6"/><circle cx="444" cy="833" r="1.6"/><circle cx="444" cy="851" r="1.6"/><circle cx="444" cy="880" r="1.6"/><circle cx="381" cy="851" r="1.6"/></g>
<path d="M464 768V782" stroke="#a05078"/>
<path d="M457 782H472M457 786H472" stroke="#2a2aff"/>
<path d="M464 786V806" stroke="#2a2aff" stroke-width="2.5"/>
<path d="M457 808H472" stroke="#f02020" stroke-width="3"/>
<text class="b" x="465" y="783">C19</text><text class="b" x="465" y="792">0.1uF</text>
<!-- C24 C26 -->
<path d="M381 833H405M381 833V863M381 851H405" stroke="#2a2aff" stroke-width="2.5" fill="none"/>
<path d="M405 833H416M405 851H416M420 833H444M420 851H444" stroke="#a05078"/>
<path d="M416 827V839M420 827V839M416 845V857M420 845V857" stroke="#2a2aff"/>
<path d="M374 864H389" stroke="#f02020" stroke-width="3"/>
<g class="b"><text x="390" y="831">C24</text><text x="417" y="831">0.1uF</text><text x="390" y="849">C26</text><text x="417" y="849">1.0uF</text></g>
<!-- L3 -->
<path d="M338 875L342 880L338 885L334 880Z" fill="#fff" stroke="#f02020"/>
<text class="r" x="309" y="883">+3.3V</text>
<path d="M342 880H352" stroke="#f0a030" stroke-width="2.5"/>
<path d="M352 880H362M397 880H706V785" stroke="#a05078" fill="none"/>
<path d="M362 880a4.4 4.4 0 0 1 8.8 0a4.4 4.4 0 0 1 8.8 0a4.4 4.4 0 0 1 8.8 0a4.4 4.4 0 0 1 8.8 0" fill="none" stroke="#2a2aff"/>
<text class="b" x="343" y="878">L3</text><text class="b" x="371" y="888">330nH</text><text class="r" x="578" y="879">+3.3VCLK</text>

<!-- UZ1 -->
<rect x="510" y="759" width="57" height="45" fill="#38a8e0" stroke="#2a2aff" stroke-width="1.2"/>
<text class="b" x="511" y="756">UZ1</text><text class="b" x="510" y="814">T604-040.0M</text>
<g class="bs"><text x="514" y="771">VC</text><text x="514" y="800">OE</text></g>
<g class="bs e"><text x="564" y="771">OUT</text><text x="564" y="789">VCC</text><text x="564" y="800">GND</text></g>
<g class="k"><text x="492" y="766">10</text><text x="496" y="794">8</text><text x="577" y="766">5</text><text x="577" y="784">9</text><text x="577" y="794">4</text></g>
<path d="M485 796H510M567 768H605V692H625M567 786H706M567 796H593" fill="none" stroke="#f04848"/>
<g fill="#f02020"><path d="M510 768l-5-3v6z"/><path d="M510 796l-5-3v6z"/></g>
<path d="M481 793l6 6M487 793l-6 6" stroke="#c07030"/>
<path d="M592 796H598V808" stroke="#2a2aff" stroke-width="2.5" fill="none"/>
<path d="M590 809H605" stroke="#f02020" stroke-width="3"/>
<g fill="#f0f"><circle cx="622" cy="786" r="1.6"/><circle cx="650" cy="786" r="1.6"/><circle cx="678" cy="786" r="1.6"/></g>
<path d="M622 786V802M650 786V802M678 786V802M623 730V786" stroke="#a05078"/>
<path d="M615 802H630M615 806H630M643 802H658M643 806H658M671 802H686M671 806H686" stroke="#2a2aff"/>
<path d="M622 806V826M650 806V826M678 806V826" stroke="#2a2aff" stroke-width="2.5"/>
<path d="M615 828H630M643 828H658M671 828H686" stroke="#f02020" stroke-width="3"/>
<g class="b"><text x="623" y="802">C21</text><text x="623" y="812">0.01uF</text><text x="651" y="802">C22</text><text x="651" y="812">0.1uF</text><text x="679" y="802">C23</text><text x="679" y="812">10.0uF</text></g>

<!-- DD2 -->
<path d="M500 664H772V683H734M500 664V730H623M541 664V680M520 664V680M576 664V680M641 664V683H678" stroke="#a05078" fill="none"/>
<g fill="#f0f"><circle cx="520" cy="664" r="1.6"/><circle cx="548" cy="664" r="1.6"/><circle cx="576" cy="664" r="1.6"/><circle cx="641" cy="664" r="1.6"/></g>
<path d="M520 664V680M548 664V680M576 664V680" stroke="#a05078"/>
<path d="M513 681H528M513 685H528M541 681H556M541 685H556M569 681H584M569 685H584" stroke="#2a2aff"/>
<path d="M520 685V704M548 685V704M576 685V704" stroke="#2a2aff" stroke-width="2.5"/>
<path d="M513 706H528M541 706H556M569 706H584" stroke="#f02020" stroke-width="3"/>
<text class="r" x="587" y="662">+3.3VCLK</text>
<g class="b"><text x="521" y="680">C13</text><text x="521" y="690">1.0uF</text><text x="549" y="680">C14</text><text x="549" y="690">0.1uF</text><text x="577" y="680">C15</text><text x="577" y="690">0.1uF</text><text x="600" y="692">C16</text><text x="626" y="690">0.1uF</text></g>
<path d="M621 686V698M625 686V698" stroke="#2a2aff"/>
<rect x="678" y="674" width="56" height="61" fill="#fff" stroke="#2a2aff" stroke-width="1.2"/>
<text class="b" x="678" y="671">DD2</text><text class="b" x="670" y="745">ADCLK905BCPZ</text>
<g class="b" font-size="7.5"><text x="682" y="686">Vcc1</text><text x="682" y="695">D</text><text x="682" y="704">D</text><text x="682" y="714">Vee1</text><text x="682" y="723">VRef</text><text x="682" y="732">Vt</text></g>
<g class="b e" font-size="7.5"><text x="731" y="686">Vcc2</text><text x="731" y="695">Q1</text><text x="731" y="704">Q1</text><text x="731" y="723">Vee2</text><text x="731" y="732">EPAD</text></g>
<path d="M682 697H687M719 688H730M719 697H730" stroke="#1d3390" stroke-width="0.6"/>
<path d="M625 692H678M648 701H678M648 712H678M648 721H678M648 730H678M734 692H836M734 701H790V710M734 721H757M734 730H757M808 692V710" stroke="#f04848" fill="none"/>
<path d="M648 701V740" stroke="#a05078"/>
<g fill="#f0f"><circle cx="648" cy="721" r="1.6"/><circle cx="648" cy="730" r="1.6"/><circle cx="808" cy="692" r="1.6"/><circle cx="856" cy="692" r="1.6"/><circle cx="772" cy="730" r="1.6"/></g>
<path d="M632 712H652M757 721H770V744M757 730H772" stroke="#2a2aff" stroke-width="2.5" fill="none"/>
<path d="M628 705V718M765 745H778" stroke="#f02020" stroke-width="3"/>
<path d="M641 740H656M641 744H656" stroke="#2a2aff"/>
<path d="M648 744V762" stroke="#2a2aff" stroke-width="2.5"/>
<path d="M641 764H656" stroke="#f02020" stroke-width="3"/>
<text class="b" x="642" y="741">C18</text><text class="b" x="642" y="751">0.1uF</text>
<g fill="#f02020"><path d="M678 692l-5-3v6z"/></g>
<circle cx="676" cy="701" r="2" fill="#fff" stroke="#f04848"/><circle cx="736" cy="701" r="2" fill="#fff" stroke="#f04848"/>
<g class="k"><text x="665" y="681">8</text><text x="665" y="690">1</text><text x="665" y="699">2</text><text x="665" y="709">7</text><text x="660" y="719">15</text><text x="660" y="728">16</text><text x="743" y="681">13</text><text x="743" y="690">12</text><text x="743" y="699">11</text><text x="743" y="719">14</text><text x="743" y="728">17</text></g>
<rect x="786" y="710" width="8" height="20" fill="#fff" stroke="#2a2aff"/><rect x="804" y="710" width="8" height="20" fill="#fff" stroke="#2a2aff"/>
<path d="M790 730V752M808 730V752" stroke="#2a2aff" stroke-width="2.5"/>
<path d="M783 753H797M801 753H815" stroke="#f02020" stroke-width="3"/>
<g class="b"><text x="789" y="709">R13</text><text x="808" y="709">R16</text><text x="790" y="738">51</text><text x="809" y="738">51</text>
<text x="816" y="690">C17</text><text x="840" y="690">0.1uF</text></g>
<path d="M834 686V698M838 686V698" stroke="#2a2aff"/>
<path d="M838 692H1005M856 692V796H838" stroke="#a05078" fill="none"/>
<!-- XS3 -->
<rect x="757" y="780" width="39" height="35" fill="#a8d828" stroke="#2a2aff"/>
<circle cx="775" cy="797" r="10" fill="none" stroke="#2a2aff"/><circle cx="775" cy="797" r="1.5" fill="#2a2aff"/>
<path d="M775 797H826" stroke="#2a2aff"/>
<path d="M771 815V822H782V815M782 822V836" stroke="#2a2aff" stroke-width="2.5" fill="none"/>
<path d="M774 838H789" stroke="#f02020" stroke-width="3"/>
<path d="M826 791V803M830 791V803" stroke="#2a2aff"/>
<text class="b" x="763" y="765">XS3</text><text class="b" x="744" y="776">MMCX100-000A</text>
<text class="b" x="800" y="795">C20</text><text class="b" x="828" y="795">33pF</text><text class="b" x="819" y="813">DNP</text>
<!-- R14 R15 -->
<path d="M865 711H893" stroke="#8a2850" stroke-width="2.5"/>
<text class="r" x="866" y="709">+1.8V</text><text class="b" x="893" y="709">R14</text>
<rect x="911" y="708" width="19" height="6" fill="#fff" stroke="#2a2aff"/>
<path d="M893 711H911M930 711H1005M925 731H934M953 731H1005" stroke="#c06080"/>
<text class="b" x="931" y="709">10k</text>
<path d="M916 724V740" stroke="#f02020" stroke-width="3"/>
<path d="M918 731H925" stroke="#2a2aff" stroke-width="2.5"/>
<rect x="934" y="728" width="19" height="6" fill="#fff" stroke="#2a2aff"/>
<text class="b" x="921" y="729">R15</text><text class="b" x="958" y="729">14.3k</text>
</svg>
</body></html>
